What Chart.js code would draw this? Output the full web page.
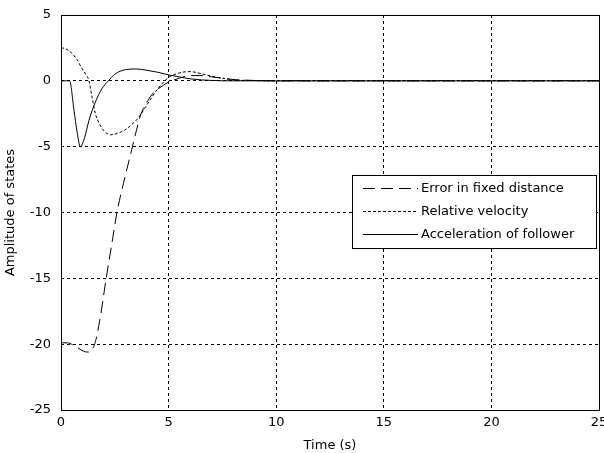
<!DOCTYPE html>
<html>
<head>
<meta charset="utf-8">
<script src="https://cdn.jsdelivr.net/npm/chart.js@4/dist/chart.umd.min.js"></script>
<style>
  html, body { margin: 0; padding: 0; background: #fff; }
  #wrap { width: 604px; height: 453px; }
</style>
</head>
<body>
<div id="wrap"><canvas id="myChart" width="604" height="453"></canvas></div>
<script>
// values
const xTicks = [0, 5, 10, 15, 20, 25]
const yTicks = [5, 0, -5, -10, -15, -20, -25]

const errorTime = [0, 0.3, 0.6, 0.9, 1.2, 1.4, 1.6, 1.8, 2.1, 2.4, 2.6, 2.9, 3.2, 3.5, 3.7, 4.0, 4.3, 4.7, 5.0, 5.5, 6.0, 6.5, 7.0, 7.5, 8.0, 9.0, 10, 25]
const errorValues = [-19.9, -19.9, -20.1, -20.4, -20.6, -20.5, -19.8, -18.2, -15, -12, -10, -7.8, -5.8, -3.8, -2.6, -1.6, -0.9, -0.4, -0.1, 0.2, 0.4, 0.4, 0.3, 0.2, 0.1, 0.03, 0, 0]

const velTime = [0, 0.2, 0.5, 0.75, 0.95, 1.15, 1.3, 1.45, 1.6, 1.8, 2.0, 2.3, 2.6, 3.0, 3.3, 3.6, 4.0, 4.5, 5.0, 5.5, 6.0, 6.5, 7.0, 7.5, 8.0, 9.0, 10, 25]
const velValues = [2.5, 2.45, 2.1, 1.6, 1.0, 0.5, 0, -1.3, -2.5, -3.3, -3.8, -4.1, -4.0, -3.7, -3.3, -2.8, -1.8, -0.6, 0.25, 0.6, 0.7, 0.55, 0.35, 0.2, 0.08, 0.02, 0, 0]

const accTime = [0, 0.4, 0.6, 0.75, 0.9, 1.1, 1.3, 1.6, 1.9, 2.2, 2.5, 3.0, 3.5, 4.0, 4.5, 5.0, 5.5, 6.0, 7.0, 8.0, 10, 25]
const accValues = [0, 0, -2.2, -3.9, -5, -4.3, -3, -1.6, -0.6, 0, 0.5, 0.85, 0.9, 0.8, 0.65, 0.45, 0.3, 0.15, 0.03, 0, 0, 0]

const seriesNames = ['Error in fixed distance', 'Relative velocity', 'Acceleration of follower']

const toPoints = (times, values) => times.map((t, i) => ({ x: t, y: values[i] }))

const FONT = "'DejaVu Sans', Arial, sans-serif"
Chart.defaults.font.family = FONT
Chart.defaults.font.size = 13
Chart.defaults.color = '#000'

//BOX AROUND THE AXES + LEGEND INSIDE
const boxPlugin = {
  id: 'box',
  afterDraw(chart) {
    const ctx = chart.ctx
    const a = chart.chartArea
    ctx.save()
    ctx.strokeStyle = '#000'
    ctx.lineWidth = 1
    ctx.setLineDash([])
    ctx.strokeRect(Math.round(a.left) + 0.5, Math.round(a.top) + 0.5, Math.round(a.right - a.left), Math.round(a.bottom - a.top))

    // legend
    const lx = 352, ly = 175, lw = 244, lh = 73
    ctx.fillStyle = '#fff'
    ctx.fillRect(lx, ly, lw, lh)
    ctx.strokeRect(lx + 0.5, ly + 0.5, lw, lh)
    ctx.font = '13px ' + FONT
    ctx.textBaseline = 'middle'
    ctx.fillStyle = '#000'
    chart.data.datasets.forEach((ds, i) => {
      const y = ly + 13 + i * 23 + 0.5
      ctx.beginPath()
      ctx.setLineDash(ds.borderDash || [])
      ctx.moveTo(lx + 11, y)
      ctx.lineTo(lx + 66, y)
      ctx.stroke()
      ctx.setLineDash([])
      ctx.fillText(ds.label, lx + 69, y)
    })
    ctx.restore()
  }
}

const ctx = document.getElementById('myChart')
new Chart(ctx, {
  type: 'line',
  data: {
    datasets: [
      {
        label: seriesNames[0],
        data: toPoints(errorTime, errorValues),
        borderColor: '#000',
        borderWidth: 1,
        borderDash: [12, 6],
        pointRadius: 0,
        cubicInterpolationMode: 'monotone'
      },
      {
        label: seriesNames[1],
        data: toPoints(velTime, velValues),
        borderColor: '#000',
        borderWidth: 1,
        borderDash: [3, 2],
        pointRadius: 0,
        cubicInterpolationMode: 'monotone'
      },
      {
        label: seriesNames[2],
        data: toPoints(accTime, accValues),
        borderColor: '#000',
        borderWidth: 1,
        pointRadius: 0,
        cubicInterpolationMode: 'monotone'
      }
    ]
  },
  options: {
    responsive: false,
    animation: false,
    layout: { padding: { left: 0, right: 5, top: 15, bottom: 0 } },
    plugins: {
      legend: { display: false },
      tooltip: { enabled: false }
    },
    scales: {
      x: {
        type: 'linear',
        min: 0,
        max: 25,
        afterBuildTicks: (scale) => { scale.ticks = xTicks.map(v => ({ value: v })) },
        afterFit: (scale) => { scale.height = 43; scale.paddingRight = 0; scale.paddingLeft = 0 },
        grid: { color: '#000', lineWidth: 1, drawTicks: false },
        border: { display: false, dash: [3, 3] },
        ticks: { padding: 5, color: '#000', maxRotation: 0 },
        title: { display: true, text: 'Time (s)', padding: { top: 0, bottom: 0 }, color: '#000' }
      },
      y: {
        type: 'linear',
        min: -25,
        max: 5,
        afterBuildTicks: (scale) => { scale.ticks = yTicks.map(v => ({ value: v })) },
        afterFit: (scale) => { scale.width = 61; scale.paddingTop = 0; scale.paddingBottom = 0 },
        grid: { color: '#000', lineWidth: 1, drawTicks: false },
        border: { display: false, dash: [3, 3] },
        ticks: { padding: 10, color: '#000' },
        title: { display: true, text: 'Amplitude of states', padding: { top: 3, bottom: 0 }, color: '#000' }
      }
    }
  },
  plugins: [boxPlugin]
})
</script>
</body>
</html>
